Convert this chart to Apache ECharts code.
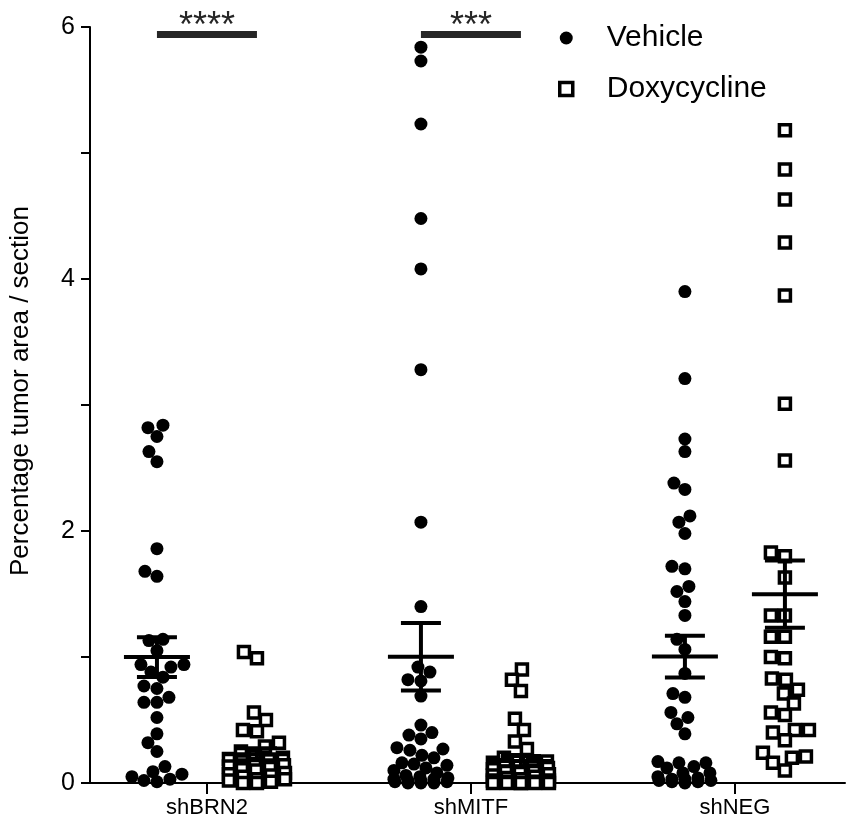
<!DOCTYPE html>
<html>
<head>
<meta charset="utf-8">
<script src="https://cdn.jsdelivr.net/npm/echarts@6/dist/echarts.min.js"></script>
<style>
  html, body { margin: 0; padding: 0; background: #fff; }
  #chart { width: 848px; height: 830px; }
</style>
</head>
<body>
<div id="chart"></div>
<script>
// categories on the x axis
var categories = ['shBRN2', 'shMITF', 'shNEG'];
var seriesNames = ['Vehicle', 'Doxycycline'];
var yTicks = [0, 2, 4, 6];

// percentage tumor area / section
var brn2Vehicle = [2.82, 2.84, 2.75, 2.63, 2.55, 1.86, 1.68, 1.64, 1.13, 1.14, 1.05, 0.94, 0.92, 0.88, 0.94, 0.84,
    0.75, 0.77, 0.64, 0.68, 0.64, 0.52, 0.39, 0.32, 0.25, 0.13, 0.07, 0.03, 0.01, 0.02, 0.05, 0.09];
var brn2Doxy = [1.04, 0.99, 0.56, 0.50, 0.42, 0.41, 0.32, 0.29, 0.25, 0.21, 0.20, 0.19, 0.18, 0.17, 0.15, 0.14,
    0.13, 0.12, 0.11, 0.10, 0.08, 0.07, 0.06, 0.05, 0.03, 0.03, 0.02, 0.01, 0.00, 0.00];
var mitfVehicle = [5.84, 5.73, 5.23, 4.48, 4.08, 3.28, 2.07, 1.40, 0.92, 0.88, 0.82, 0.81, 0.69, 0.46, 0.40, 0.38,
    0.35, 0.28, 0.27, 0.26, 0.22, 0.20, 0.16, 0.15, 0.14, 0.12, 0.10, 0.08, 0.06, 0.05, 0.04, 0.03, 0.03, 0.02,
    0.02, 0.01, 0.01, 0.00, 0.00, 0.00];
var mitfDoxy = [0.90, 0.82, 0.73, 0.51, 0.42, 0.33, 0.27, 0.20, 0.18, 0.17, 0.16, 0.15, 0.14, 0.13, 0.12, 0.11,
    0.10, 0.09, 0.08, 0.07, 0.06, 0.05, 0.04, 0.03, 0.02, 0.02, 0.01, 0.01, 0.00, 0.00, 0.00, 0.00, 0.00, 0.00];
var negVehicle = [3.90, 3.21, 2.73, 2.63, 2.38, 2.33, 2.12, 2.07, 1.98, 1.72, 1.70, 1.56, 1.52, 1.44, 1.33, 1.14,
    1.06, 0.87, 0.71, 0.68, 0.56, 0.52, 0.47, 0.39, 0.17, 0.16, 0.16, 0.13, 0.12, 0.08, 0.08, 0.05, 0.04, 0.03,
    0.03, 0.02, 0.02, 0.01, 0.01, 0.00];
var negDoxy = [5.18, 4.87, 4.63, 4.29, 3.87, 3.01, 2.56, 1.83, 1.80, 1.63, 1.33, 1.33, 1.16, 1.16, 1.00, 0.99,
    0.83, 0.82, 0.74, 0.71, 0.63, 0.56, 0.54, 0.42, 0.42, 0.40, 0.34, 0.24, 0.21, 0.20, 0.16, 0.10];

// significance annotations: category index, label
var sigCats = [0, 1];
var sigLabels = ['****', '***'];

var vehicleGroups = [brn2Vehicle, mitfVehicle, negVehicle];
var doxyGroups = [brn2Doxy, mitfDoxy, negDoxy];

// layout
var FONT = 'Liberation Sans, Arial, Helvetica, sans-serif';
var W = 848, H = 830;
var GRID = { left: 90, right: 3, top: 27, bottom: 47, containLabel: false, outerBoundsMode: 'none' };
var X_MIN = 0.557, X_MAX = 3.417;
var Y_MAX = 6;
var pxPerX = (W - GRID.left - GRID.right) / (X_MAX - X_MIN);
var pxPerY = (H - GRID.top - GRID.bottom) / Y_MAX;
var PAIR_OFFSET = 50 / pxPerX; // vehicle left, doxy right of category centre

// simple beeswarm: place each point nearest to centre with least overlap
function swarm(values, sep, maxHalf) {
    var order = values.map(function (v, i) { return i; })
        .sort(function (a, b) { return values[a] - values[b]; });
    var placed = [];
    var out = new Array(values.length);
    order.forEach(function (i) {
        var y = values[i] * pxPerY;
        var best = 0, bestScore = Infinity;
        for (var dx = -maxHalf; dx <= maxHalf; dx += 1) {
            var overlap = 0;
            placed.forEach(function (p) {
                var d = Math.hypot(p.x - dx, p.y - y);
                if (d < sep) overlap += sep - d;
            });
            var score = overlap * 100 + Math.abs(dx);
            if (score < bestScore) { bestScore = score; best = dx; }
        }
        placed.push({ x: best, y: y });
        out[i] = best;
    });
    return out;
}

function buildPoints(groups, side, sep, maxHalf) {
    var pts = [];
    groups.forEach(function (vals, g) {
        var centre = g + 1 + side * PAIR_OFFSET;
        var offs = swarm(vals, sep, maxHalf);
        vals.forEach(function (v, i) {
            pts.push([centre + offs[i] / pxPerX, v]);
        });
    });
    return pts;
}

function meanSem(vals) {
    var n = vals.length;
    var m = vals.reduce(function (a, b) { return a + b; }, 0) / n;
    var ss = vals.reduce(function (a, b) { return a + (b - m) * (b - m); }, 0);
    var sd = Math.sqrt(ss / (n - 1));
    return [m, sd / Math.sqrt(n)];
}

var summary = [];
vehicleGroups.forEach(function (vals, g) {
    var ms = meanSem(vals);
    summary.push([g + 1 - PAIR_OFFSET, ms[0], ms[1]]);
});
doxyGroups.forEach(function (vals, g) {
    var ms = meanSem(vals);
    summary.push([g + 1 + PAIR_OFFSET, ms[0], ms[1]]);
});

var sigData = sigCats.map(function (c, i) {
    return [c + 1 - PAIR_OFFSET, c + 1 + PAIR_OFFSET, 5.94, sigLabels[i]];
});

var chart = echarts.init(document.getElementById('chart'));
chart.setOption({
    animation: false,
    backgroundColor: '#fff',
    textStyle: { fontFamily: FONT },
    grid: GRID,
    legend: {
        data: [
            { name: seriesNames[0] },
            { name: seriesNames[1], itemStyle: { color: '#fff', borderColor: '#000', borderWidth: 3.5 } }
        ],
        orient: 'vertical',
        left: 553,
        top: 18,
        itemWidth: 13,
        itemHeight: 13,
        itemGap: 21,
        textStyle: { fontSize: 30, color: '#000', fontFamily: FONT, lineHeight: 30, padding: [0, 0, 0, 29] }
    },
    xAxis: {
        type: 'value',
        min: X_MIN,
        max: X_MAX,
        splitLine: { show: false },
        axisLine: { onZero: false, lineStyle: { color: '#000', width: 2 } },
        axisTick: {
            show: true,
            customValues: [1, 2, 3],
            length: 11,
            lineStyle: { color: '#000', width: 2 }
        },
        axisLabel: {
            customValues: [1, 2, 3],
            formatter: function (v) { return categories[Math.round(v) - 1]; },
            fontSize: 22,
            color: '#000',
            margin: 14,
            fontFamily: FONT
        }
    },
    yAxis: {
        type: 'value',
        min: yTicks[0],
        max: yTicks[yTicks.length - 1],
        interval: 2,
        name: 'Percentage tumor area / section',
        nameLocation: 'middle',
        nameRotate: 90,
        nameGap: 56,
        nameTextStyle: { fontSize: 26, color: '#000', fontFamily: FONT, padding: [0, 0, 0, 28] },
        splitLine: { show: false },
        axisLine: { onZero: false, lineStyle: { color: '#000', width: 2 } },
        axisTick: { show: true, length: 9, lineStyle: { color: '#000', width: 2 } },
        minorTick: { show: true, splitNumber: 2, length: 9, lineStyle: { color: '#000', width: 2 } },
        axisLabel: { fontSize: 25, color: '#000', margin: 15, fontFamily: FONT }
    },
    series: [
        {
            name: 'Vehicle',
            type: 'scatter',
            symbol: 'circle',
            symbolSize: 13,
            itemStyle: { color: '#000', opacity: 1 },
            data: buildPoints(vehicleGroups, -1, 12.5, 27),
            z: 2
        },
        {
            name: 'Doxycycline',
            type: 'scatter',
            symbol: 'rect',
            symbolSize: 11,
            itemStyle: { color: '#fff', borderColor: '#000', borderWidth: 3.5, opacity: 1 },
            data: buildPoints(doxyGroups, 1, 14, 28),
            z: 3
        },
        {
            name: 'meanSem',
            type: 'custom',
            z: 5,
            silent: true,
            data: summary,
            renderItem: function (params, api) {
                var c = api.coord([api.value(0), api.value(1)]);
                var hi = api.coord([api.value(0), api.value(1) + api.value(2)]);
                var lo = api.coord([api.value(0), api.value(1) - api.value(2)]);
                var st = { stroke: '#000', lineWidth: 4 };
                return {
                    type: 'group',
                    children: [
                        { type: 'line', shape: { x1: c[0] - 33, y1: c[1], x2: c[0] + 33, y2: c[1] }, style: st },
                        { type: 'line', shape: { x1: c[0], y1: hi[1], x2: c[0], y2: lo[1] }, style: st },
                        { type: 'line', shape: { x1: c[0] - 20, y1: hi[1], x2: c[0] + 20, y2: hi[1] }, style: st },
                        { type: 'line', shape: { x1: c[0] - 20, y1: lo[1], x2: c[0] + 20, y2: lo[1] }, style: st }
                    ]
                };
            }
        },
        {
            name: 'significance',
            type: 'custom',
            z: 5,
            silent: true,
            data: sigData,
            renderItem: function (params, api) {
                var a = api.coord([api.value(0), api.value(2)]);
                var b = api.coord([api.value(1), api.value(2)]);
                return {
                    type: 'group',
                    children: [
                        { type: 'line', shape: { x1: a[0], y1: a[1], x2: b[0], y2: b[1] },
                          style: { stroke: '#262626', lineWidth: 7 } },
                        { type: 'text', x: (a[0] + b[0]) / 2, y: a[1] - 7,
                          style: { text: sigData[params.dataIndex][3], fill: '#262626',
                                   font: '36px ' + FONT, align: 'center', verticalAlign: 'middle' } }
                    ]
                };
            }
        }
    ]
});
</script>
</body>
</html>
